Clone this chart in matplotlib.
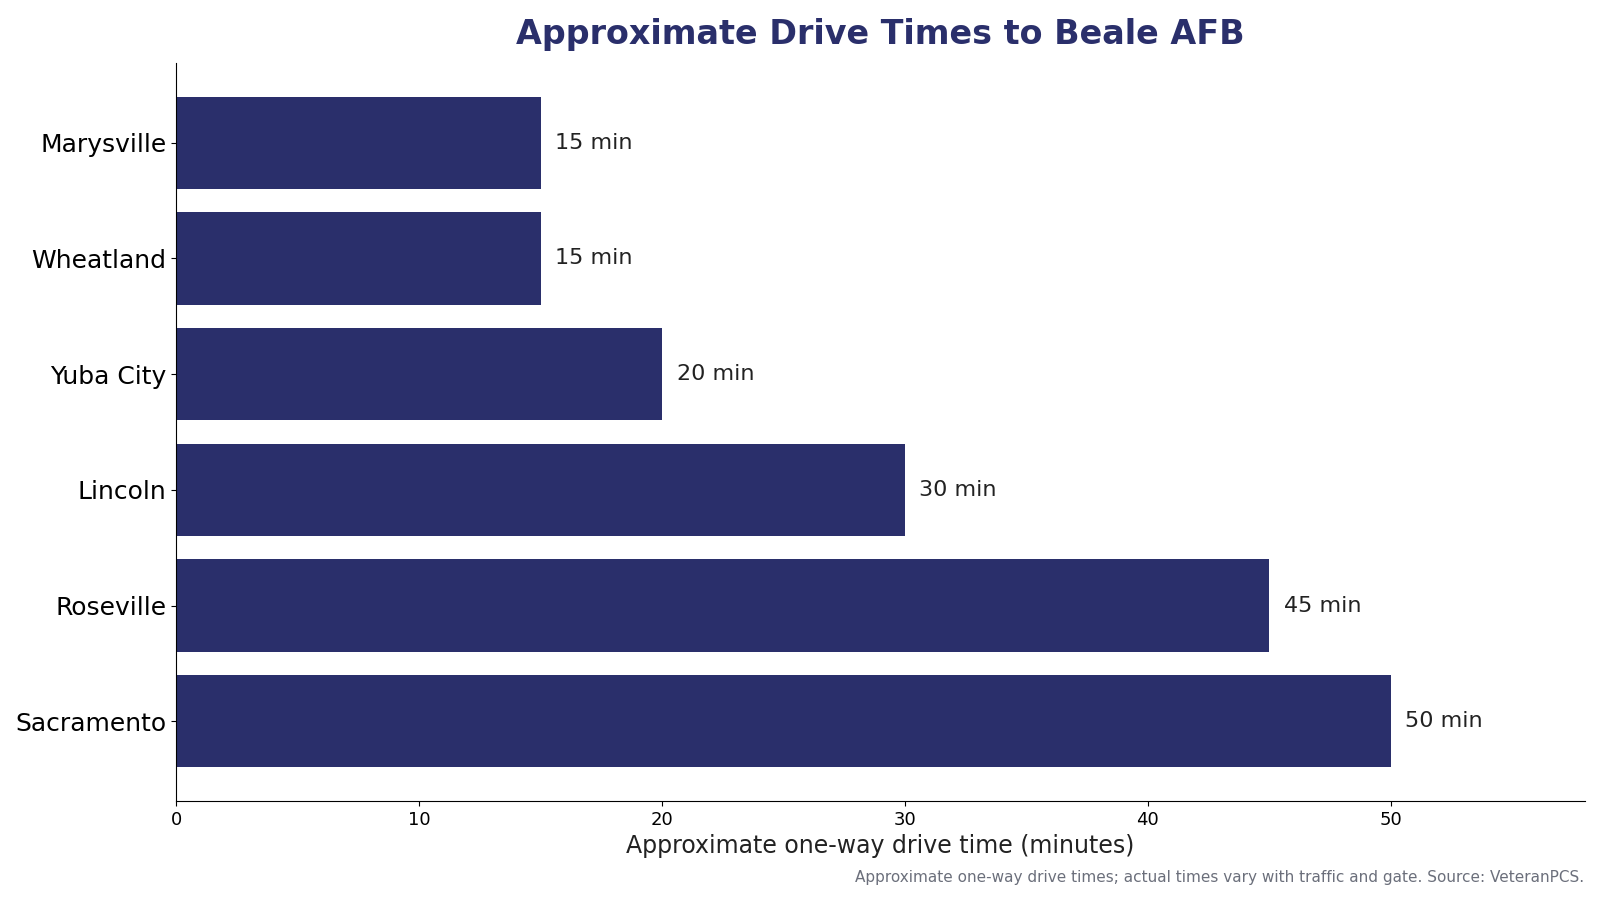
import matplotlib
matplotlib.use('Agg')
import matplotlib.pyplot as plt

# ============================== DATA ==============================
towns = ['Sacramento', 'Roseville', 'Lincoln', 'Yuba City', 'Wheatland', 'Marysville']
minutes = [50, 45, 30, 20, 15, 15]

navy = '#2a2f6b'

# ============================== PLOT ==============================
fig = plt.figure(figsize=(16, 9), dpi=100)
ax = fig.add_axes([0.1102, 0.11, 0.8803, 0.82])

ax.barh(towns, minutes, height=0.8, color=navy)
for i, v in enumerate(minutes):
    ax.text(v + 0.6, i, f'{v} min', va='center', ha='left', fontsize=16, color='#222222')

ax.set_xlim(0, 58.0)
ax.spines['top'].set_visible(False)
ax.spines['right'].set_visible(False)
ax.tick_params(axis='y', labelsize=18)
ax.tick_params(axis='x', labelsize=13)
ax.set_xlabel('Approximate one-way drive time (minutes)', fontsize=17, color='#222222')
ax.set_title('Approximate Drive Times to Beale AFB', fontsize=24, fontweight='bold',
             color=navy, pad=14)

fig.text(0.99, 0.0245, 'Approximate one-way drive times; actual times vary with traffic and gate. Source: VeteranPCS.',
         ha='right', va='center', fontsize=11, color='#6b6f7b')

fig.savefig('out.png', dpi=100)
